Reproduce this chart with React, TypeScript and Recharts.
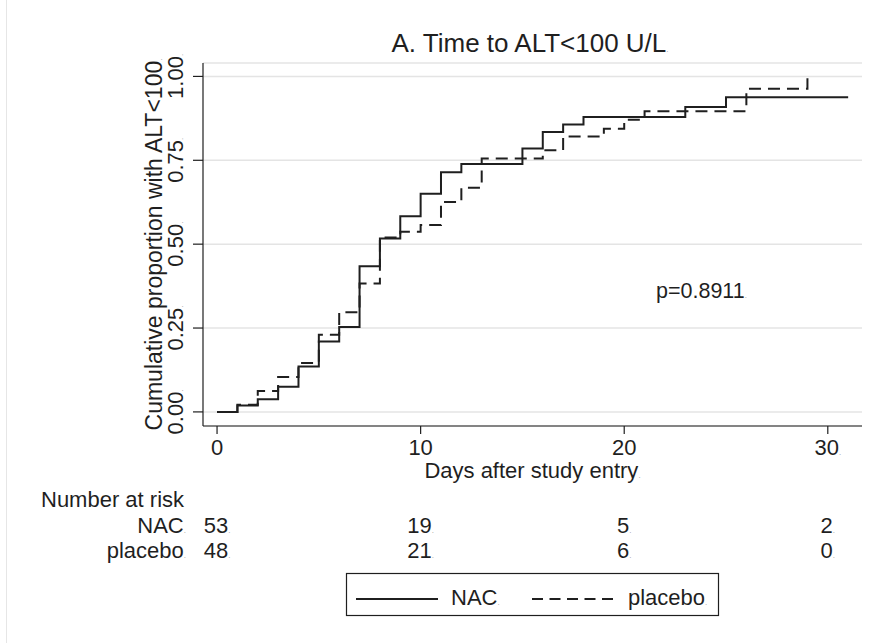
import React from "react";
import { CartesianGrid, Line, LineChart, XAxis, YAxis } from "recharts";

const FONT = '"Liberation Sans", Arial, Helvetica, sans-serif';
const INK = "#1f1f1f";
const GRID = "#e4e4e4";
const FS = 22;

// Kaplan-Meier style cumulative proportion reaching ALT<100
const NAC_DAYS = [0, 1, 2, 3, 4, 5, 6, 7, 8, 9, 10, 11, 12, 15, 16, 17, 18, 23, 25, 31];
const NAC_CUM = [
  0, 0.019, 0.038, 0.075, 0.135, 0.21, 0.253, 0.434, 0.517, 0.583, 0.65, 0.714, 0.739, 0.785,
  0.834, 0.857, 0.879, 0.909, 0.938, 0.938,
];
const PLACEBO_DAYS = [0, 1, 2, 3, 4, 5, 6, 7, 8, 9, 10, 11, 12, 13, 16, 17, 19, 20, 21, 26, 29];
const PLACEBO_CUM = [
  0, 0.021, 0.0625, 0.104, 0.146, 0.23, 0.297, 0.383, 0.52, 0.537, 0.557, 0.626, 0.668, 0.755,
  0.78, 0.821, 0.844, 0.871, 0.896, 0.963, 1.0,
];

const X_TICKS = [0, 10, 20, 30];
const NAC_AT_RISK = [53, 19, 5, 2];
const PLACEBO_AT_RISK = [48, 21, 6, 0];
const Y_TICKS = [0, 0.25, 0.5, 0.75, 1];

const nacRows = NAC_DAYS.map((t, i) => ({ t, p: NAC_CUM[i] }));
const placeboRows = PLACEBO_DAYS.map((t, i) => ({ t, p: PLACEBO_CUM[i] }));

/** the little trailing dot that sits after most labels in the source figure */
const Dot = () => (
  <tspan fontSize={8} fill="#9a9a9a">
    .
  </tspan>
);

function XTick({ x, payload }: any) {
  const i = X_TICKS.indexOf(payload.value);
  return (
    <g fontFamily={FONT} fontSize={FS} fill={INK}>
      <text x={x} y={455} textAnchor="middle">
        {payload.value}
        {payload.value === 30 ? <Dot /> : null}
      </text>
      <text x={x} y={533} textAnchor="middle">
        {NAC_AT_RISK[i]}
        <Dot />
      </text>
      <text x={x} y={558} textAnchor="middle">
        {PLACEBO_AT_RISK[i]}
        <Dot />
      </text>
    </g>
  );
}

function YTick({ y, payload }: any) {
  const bx = 183;
  return (
    <text
      x={bx}
      y={y}
      transform={`rotate(-90 ${bx} ${y})`}
      textAnchor="middle"
      fontFamily={FONT}
      fontSize={FS}
      fill={INK}
    >
      {Number(payload.value).toFixed(2)}
      <Dot />
    </text>
  );
}

function YTitle({ viewBox }: any) {
  const cy = viewBox.y + viewBox.height / 2;
  const bx = 162;
  return (
    <text
      x={bx}
      y={cy}
      transform={`rotate(-90 ${bx} ${cy})`}
      textAnchor="middle"
      fontFamily={FONT}
      fontSize={23}
      fill={INK}
    >
      {"Cumulative proportion with ALT<100"}
      <Dot />
    </text>
  );
}

function XTitle({ viewBox }: any) {
  return (
    <text
      x={viewBox.x + viewBox.width / 2}
      y={478}
      textAnchor="middle"
      fontFamily={FONT}
      fontSize={FS}
      fill={INK}
    >
      Days after study entry
      <Dot />
    </text>
  );
}

function Annotations() {
  return (
    <g fontFamily={FONT} fill={INK}>
      <line x1={6.5} y1={0} x2={6.5} y2={643} stroke="#e6e6e6" />
      <text x={530} y={52} textAnchor="middle" fontSize={26}>
        {"A. Time to ALT<100 U/L"}
        <Dot />
      </text>
      <text x={656} y={298} fontSize={21.5}>
        p=0.8911
        <Dot />
      </text>
      <text x={41} y={507} fontSize={FS}>
        Number at risk
      </text>
      <text x={186} y={533} fontSize={FS} textAnchor="end">
        NAC
        <Dot />
      </text>
      <text x={186} y={558} fontSize={FS} textAnchor="end">
        placebo
        <Dot />
      </text>
      {/* legend */}
      <rect x={346.5} y={573.5} width={372} height={42} fill="#fff" stroke={INK} strokeWidth={1.2} />
      <line x1={356} x2={438} y1={599} y2={599} stroke={INK} strokeWidth={2} />
      <text x={451} y={605} fontSize={FS}>
        NAC
        <Dot />
      </text>
      <line
        x1={532}
        x2={613}
        y1={599}
        y2={599}
        stroke={INK}
        strokeWidth={2}
        strokeDasharray="11 6.5"
      />
      <text x={628} y={605} fontSize={FS}>
        placebo
        <Dot />
      </text>
    </g>
  );
}

export default function App() {
  return (
    <div style={{ position: "absolute", left: 0, top: 0, width: 873, height: 643, background: "#fff" }}>
      <LineChart width={873} height={643} margin={{ top: 63, right: 11, bottom: 17, left: 143 }}>
        <CartesianGrid vertical={false} stroke={GRID} strokeWidth={1.5} />
        <XAxis
          type="number"
          dataKey="t"
          domain={[-0.69, 31.68]}
          ticks={X_TICKS}
          allowDataOverflow
          height={200}
          tickSize={8}
          axisLine={{ stroke: INK, strokeWidth: 1.2 }}
          tickLine={{ stroke: INK, strokeWidth: 1.2 }}
          tick={<XTick />}
          label={<XTitle />}
        />
        <YAxis
          type="number"
          domain={[-0.042, 1.04]}
          ticks={Y_TICKS}
          allowDataOverflow
          width={60}
          tickSize={10}
          axisLine={{ stroke: INK, strokeWidth: 1.2 }}
          tickLine={{ stroke: INK, strokeWidth: 1.2 }}
          tick={<YTick />}
          label={<YTitle />}
        />
        <Line
          data={nacRows}
          dataKey="p"
          name="NAC"
          type="stepAfter"
          stroke={INK}
          strokeWidth={2}
          dot={false}
          activeDot={false}
          isAnimationActive={false}
        />
        <Line
          data={placeboRows}
          dataKey="p"
          name="placebo"
          type="stepAfter"
          stroke={INK}
          strokeWidth={2}
          strokeDasharray="12 7"
          dot={false}
          activeDot={false}
          isAnimationActive={false}
        />
        <Annotations />
      </LineChart>
    </div>
  );
}
